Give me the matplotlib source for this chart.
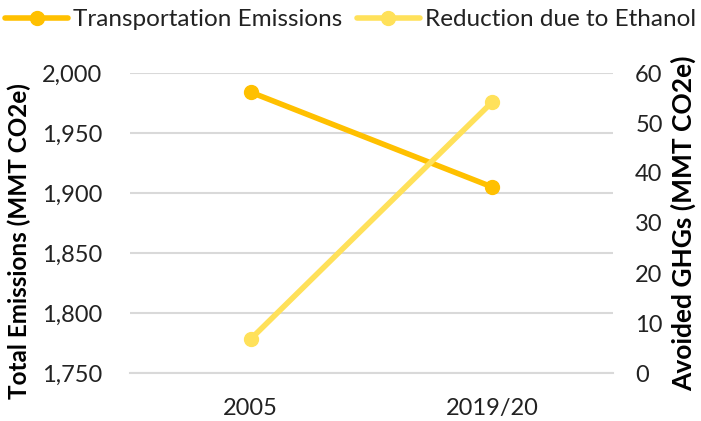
import matplotlib.pyplot as plt

years = ['2005', '2019/20']
transport = [1984, 1905]
ethanol = [6.8, 54.2]

plt.rcParams['font.family'] = ['Lato', 'DejaVu Sans']

fig = plt.figure(figsize=(7.01, 4.21), dpi=100)
ax = fig.add_axes([130 / 701, 1 - 373 / 421, 483 / 701, 300 / 421])
ax2 = ax.twinx()

x = [0.5, 1.5]
l1, = ax.plot(x, transport, color='#FFC000', lw=4, marker='o', ms=10,
              solid_capstyle='round', label='Transportation Emissions', zorder=3)
l2, = ax2.plot(x, ethanol, color='#FFE15A', lw=4, marker='o', ms=10,
               solid_capstyle='round', label='Reduction due to Ethanol', zorder=3)

ax.set_xlim(0, 2)
ax.set_ylim(1750, 2000)
ax2.set_ylim(0, 60)
ax.set_xticks(x)
ax.set_xticklabels(years)
ax.set_yticks(range(1750, 2001, 50))
ax.set_yticklabels([f'{v:,}' for v in range(1750, 2001, 50)])
ax2.set_yticks(range(0, 61, 10))

ax.grid(axis='y', color='#D9D9D9', lw=1.5)
ax.set_axisbelow(True)
for a in (ax, ax2):
    for s in a.spines.values():
        s.set_visible(False)
    a.tick_params(length=0, labelsize=17, colors='#222222')
ax.spines['bottom'].set_visible(True)
ax.spines['bottom'].set_color('#D9D9D9')
ax.spines['bottom'].set_linewidth(1.5)
ax.tick_params(axis='x', pad=18)
ax.tick_params(axis='y', pad=20)
ax2.tick_params(axis='y', pad=16)

ax.set_ylabel('Total Emissions (MMT CO2e)', fontsize=17.5, fontweight='bold')
ax.yaxis.set_label_coords(-0.205, 0.44)
ax2.set_ylabel('Avoided GHGs (MMT CO2e)', fontsize=19, fontweight='bold', labelpad=6)

fig.legend(handles=[l1, l2], loc='upper center', bbox_to_anchor=(0.5, 1.03), ncol=2,
           frameon=False, fontsize=17.5, handlelength=2.6, columnspacing=0.6,
           handletextpad=0.2, labelcolor='#222222')

fig.savefig('out.png', dpi=100)
